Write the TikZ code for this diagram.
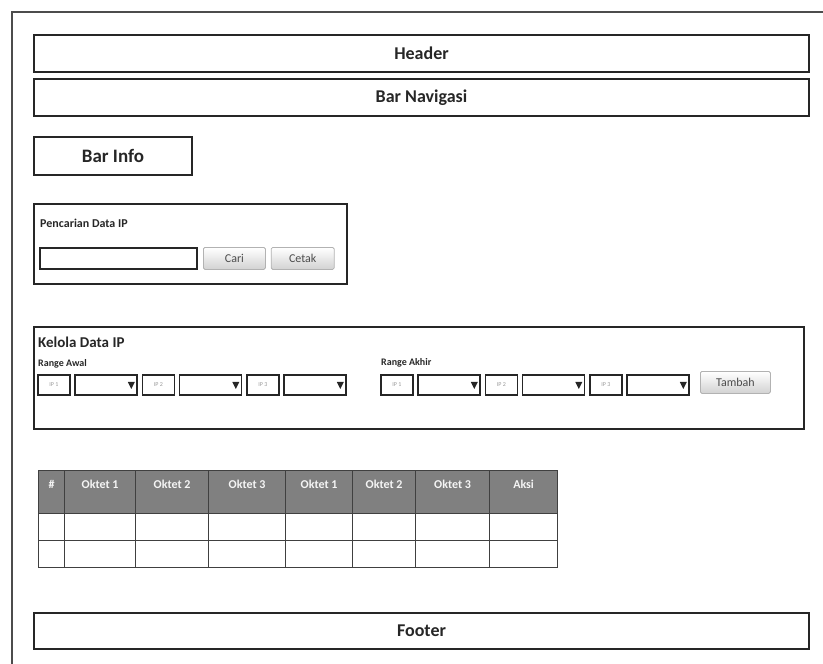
\documentclass[tikz,border=0pt]{standalone}
\usepackage{fontspec}
\setmainfont{Carlito}
\usetikzlibrary{positioning}
\tikzstyle{frame} = [draw=black!70, line width=1.6pt]
\tikzstyle{bar} = [rectangle, anchor=north west, inner sep=0pt, draw=black!85, line width=2pt, minimum width=775pt, minimum height=37pt, text centered, text=black!85, font=\bfseries\fontsize{18}{20}\selectfont]
\tikzstyle{panel} = [rectangle, anchor=north west, inner sep=0pt, draw=black!85, line width=2pt]
\tikzstyle{title} = [anchor=west, inner sep=0pt, text=black!85, font=\bfseries\fontsize{12}{14}\selectfont]
\tikzstyle{field} = [rectangle, anchor=north west, inner sep=0pt, draw=black!85, line width=1.8pt, minimum height=20pt]
\tikzstyle{ipbox} = [field, minimum width=32pt, text=gray!80, font=\fontsize{6}{7}\selectfont]
\tikzstyle{dropbox} = [field, minimum width=62pt]
\tikzstyle{button} = [rectangle, rounded corners=1.5pt, anchor=north west, inner sep=0pt, draw=gray!60, line width=0.8pt, top color=white, bottom color=gray!35, minimum height=22pt, text=gray!60!black, font=\fontsize{12}{14}\selectfont]
\tikzstyle{headcell} = [rectangle, anchor=north west, inner sep=0pt, draw=black!75, line width=1.2pt, fill=gray, minimum height=43pt]
\tikzstyle{headtext} = [inner sep=0pt, text=gray!8, font=\bfseries\fontsize{12}{14}\selectfont]
\tikzstyle{cell} = [rectangle, anchor=north west, inner sep=0pt, draw=black!75, line width=1.2pt, fill=white, minimum height=27pt]

\begin{document}
\begin{tikzpicture}[x=1pt, y=-1pt]
\useasboundingbox (0,0) rectangle (823,664);

% Page frame
\draw [frame] (12,664) -- (12,12) -- (823,12);

% Header, navigation and info bars
\node (header) [bar] at (33,34) {Header};
\node (navbar) [bar] at (33,78) {Bar Navigasi};
\node (infobar) [bar, minimum width=158pt, minimum height=38pt, font=\bfseries\fontsize{19}{21}\selectfont] at (33,136) {Bar Info};

% Search panel
\node (search) [panel, minimum width=313pt, minimum height=80pt] at (33,203) {};
\node (searchtitle) [title, below right=20pt and 7pt of search.north west, anchor=west] {Pencarian Data IP};
\node (searchfield) [field, minimum width=157pt, minimum height=21pt] at (39,247) {};
\node (cari) [button, minimum width=62pt] at (203,247) {Cari};
\node (cetak) [button, minimum width=63pt, right=5pt of cari] {Cetak};

% Manage panel
\node (kelola) [panel, minimum width=770pt, minimum height=102pt] at (33,326) {};
\node (kelolatitle) [title, font=\bfseries\fontsize{15}{17}\selectfont] at (38,342) {Kelola Data IP};
\node (awal) [title, font=\bfseries\fontsize{10}{12}\selectfont] at (38,364) {Range Awal};
\node (akhir) [title, font=\bfseries\fontsize{10}{12}\selectfont] at (381,363) {Range Akhir};
\foreach \g/\x in {a/37, b/380} {
  \foreach \k in {1,2,3} {
    \node (\g ip\k) [ipbox] at (\x+104.5*\k-104.5,374) {IP \k};
    \node (\g dd\k) [dropbox] at (\x+104.5*\k-67.5,374) {};
    \fill [black!85] ([xshift=-10pt,yshift=3pt]\g dd\k.east) -- ++(7,0) -- ++(-3.5,7) -- cycle;
  }
}
\node (tambah) [button, minimum width=70pt] at (700,371) {Tambah};

% Data table
\foreach \x/\w/\t [count=\i] in {38/26/{\#}, 64/71/Oktet 1, 135/73/Oktet 2, 208/77/Oktet 3, 285/67/Oktet 1, 352/63/Oktet 2, 415/74/Oktet 3, 489/68/Aksi} {
  \node (head\i) [headcell, minimum width=\w pt] at (\x,470) {};
  \node (headtext\i) [headtext] at ([yshift=-14pt]head\i.north) {\t};
  \node (rowa\i) [cell, minimum width=\w pt] at (\x,513) {};
  \node (rowb\i) [cell, minimum width=\w pt] at (\x,540) {};
}

% Footer
\node (footer) [bar, minimum height=36pt] at (33,612) {Footer};

\end{tikzpicture}
\end{document}
